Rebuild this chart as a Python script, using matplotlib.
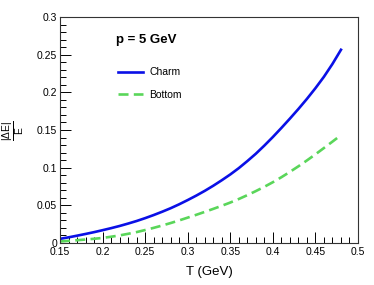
import matplotlib
matplotlib.use("Agg")
import matplotlib.pyplot as plt
from matplotlib.ticker import MultipleLocator, FormatStrFormatter

plt.rcParams['font.family'] = ['Liberation Sans', 'DejaVu Sans']
plt.rcParams['mathtext.fontset'] = 'custom'
plt.rcParams['mathtext.rm'] = 'Liberation Sans'
plt.rcParams['mathtext.it'] = 'Liberation Sans'

T = [0.15, 0.16, 0.17, 0.18, 0.19, 0.20, 0.21, 0.22, 0.23, 0.24, 0.25, 0.26, 0.27, 0.28, 0.29,
     0.30, 0.31, 0.32, 0.33, 0.34, 0.35, 0.36, 0.37, 0.38, 0.39, 0.40, 0.41, 0.42, 0.43, 0.44,
     0.45, 0.46, 0.47, 0.48]
charm = [0.0055, 0.0075, 0.0097, 0.0120, 0.0144, 0.0170, 0.0197, 0.0226, 0.0258, 0.0292, 0.0330,
         0.0371, 0.0415, 0.0462, 0.0514, 0.0570, 0.0629, 0.0692, 0.0760, 0.0833, 0.0910, 0.0994,
         0.1087, 0.1185, 0.1293, 0.1407, 0.1527, 0.1651, 0.1779, 0.1913, 0.2055, 0.2207, 0.2377,
         0.2565]
bottom = [0.0020, 0.0028, 0.0037, 0.0046, 0.0056, 0.0067, 0.0083, 0.0101, 0.0122, 0.0145, 0.0172,
          0.0201, 0.0232, 0.0265, 0.0300, 0.0337, 0.0374, 0.0413, 0.0453, 0.0494, 0.0537, 0.0584,
          0.0635, 0.0689, 0.0746, 0.0807, 0.0873, 0.0944, 0.1018, 0.1096, 0.1177, 0.1261, 0.1346,
          0.1432]

fig = plt.figure(figsize=(3.74, 2.85), dpi=100)
ax = fig.add_axes([60/374, 1-243/285, 298/374, 226/285])

ax.plot(T, charm, color='#0a10e6', lw=1.9, label='Charm')
ax.plot(T, bottom, color='#5ad65a', lw=1.9, dashes=(3.8, 2.0), label='Bottom')

ax.set_xlim(0.15, 0.5)
ax.set_ylim(0, 0.3)
ax.xaxis.set_major_locator(MultipleLocator(0.05))
ax.xaxis.set_minor_locator(MultipleLocator(0.01))
ax.yaxis.set_major_locator(MultipleLocator(0.05))
ax.yaxis.set_minor_locator(MultipleLocator(0.01))
ax.xaxis.set_major_formatter(FormatStrFormatter('%g'))
ax.yaxis.set_major_formatter(FormatStrFormatter('%g'))
ax.tick_params(which='both', direction='in', top=False, right=False, labelsize=7.5)
ax.tick_params(axis='x', pad=3)
ax.tick_params(axis='y', pad=2)
ax.tick_params(which='major', length=8, width=0.7)
ax.tick_params(which='minor', length=4, width=0.7)
for s in ax.spines.values():
    s.set_linewidth(0.8)
    s.set_color('#333333')

ax.set_xlabel('T (GeV)', fontsize=9.5, labelpad=6)
fig.text(13/374, 1-131/285, r'$\frac{|\Delta \mathrm{E}|}{\mathrm{E}}$', rotation=90,
         fontsize=10.5, ha='center', va='center')

fig.text(116/374, 1-40/285, 'p = 5 GeV', fontsize=9.5, fontweight='bold', ha='left', va='center')
leg = ax.legend(loc='upper left', bbox_to_anchor=(54/298, 1-46/226), frameon=False,
                fontsize=7.5, handlelength=2.4, labelspacing=1.2, handletextpad=0.6,
                borderaxespad=0)

fig.savefig('out.png', dpi=100)
